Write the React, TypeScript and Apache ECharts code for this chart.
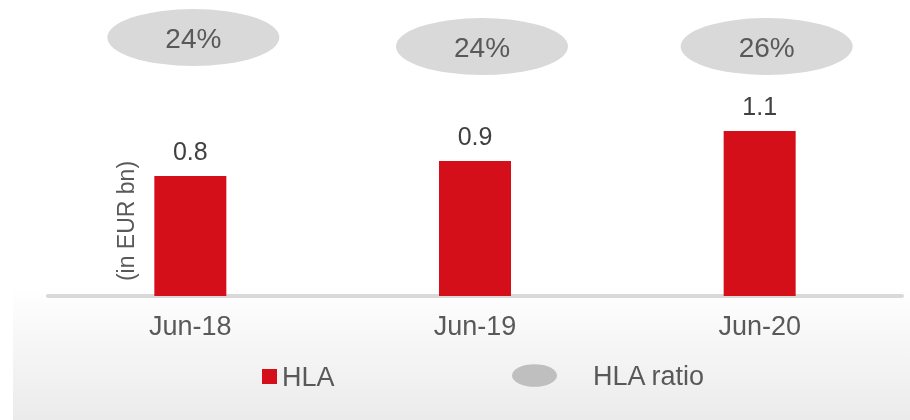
import React, { useEffect, useRef } from "react";
import * as echarts from "echarts";

const categories = ["Jun-18", "Jun-19", "Jun-20"];
const hlaValues = [0.8, 0.9, 1.1];
const hlaRatios = [24, 24, 26];
const ratioRow = ["HLA ratio"];

const FONT = "'Liberation Sans', Arial, sans-serif";
const ELLIPSE = "path://M0,50 A100,50 0 1,1 200,50 A100,50 0 1,1 0,50 Z";

export default function App() {
  const ref = useRef<HTMLDivElement>(null);
  useEffect(() => {
    if (!ref.current) return;
    const chart = echarts.init(ref.current, null, { renderer: "svg" });
    const ratioOffsets = [
      [3, -9],
      [7, 0],
      [7, 0],
    ];
    chart.setOption({
      animation: false,
      textStyle: { fontFamily: FONT },
      graphic: [
        {
          type: "rect",
          z: -100,
          silent: true,
          shape: { x: 13, y: 0, width: 897, height: 420 },
          style: {
            fill: new echarts.graphic.LinearGradient(0, 0, 0, 1, [
              { offset: 0, color: "#ffffff" },
              { offset: 0.68, color: "#ffffff" },
              { offset: 1, color: "#ebebeb" },
            ]),
          },
        },
        {
          type: "text",
          x: 126,
          y: 221,
          rotation: Math.PI / 2,
          style: {
            text: "(in EUR bn)",
            fontSize: 23,
            fontFamily: FONT,
            fill: "#595959",
            textAlign: "center",
            textVerticalAlign: "middle",
          },
        },
      ],
      grid: [
        { left: 48, right: 8, top: 71, bottom: 124 },
        { left: 48, right: 8, top: 18, height: 57 },
      ],
      xAxis: [
        {
          type: "category",
          gridIndex: 0,
          data: categories,
          axisLine: { lineStyle: { color: "#d9d9d9", width: 4 } },
          axisTick: { show: false },
          axisLabel: { fontSize: 27, color: "#595959", margin: 16, fontFamily: FONT },
        },
        {
          type: "category",
          gridIndex: 1,
          data: categories,
          show: false,
        },
      ],
      yAxis: [
        {
          type: "value",
          gridIndex: 0,
          min: 0,
          max: 1.5,
          show: false,
          splitLine: { show: false },
        },
        {
          type: "category",
          gridIndex: 1,
          data: ratioRow,
          show: false,
        },
      ],
      legend: [
        {
          data: [{ name: "HLA", icon: "rect" }],
          left: 257,
          top: 358,
          itemWidth: 15,
          itemHeight: 15,
          textStyle: { fontSize: 27, color: "#595959", fontFamily: FONT },
        },
        {
          data: [{ name: "HLA ratio", icon: ELLIPSE, itemStyle: { color: "#bfbfbf" } }],
          left: 507,
          top: 357,
          itemWidth: 45,
          itemHeight: 24,
          textStyle: {
            fontSize: 27,
            color: "#595959",
            fontFamily: FONT,
            padding: [0, 0, 0, 31],
          },
        },
      ],
      series: [
        {
          name: "HLA",
          type: "bar",
          xAxisIndex: 0,
          yAxisIndex: 0,
          data: hlaValues,
          barWidth: 72,
          itemStyle: { color: "#d50f19" },
          label: {
            show: true,
            position: "top",
            distance: 13,
            fontSize: 25,
            color: "#404040",
            fontFamily: FONT,
            formatter: (p: any) => Number(p.value).toFixed(1),
          },
        },
        {
          name: "HLA ratio",
          type: "scatter",
          xAxisIndex: 1,
          yAxisIndex: 1,
          clip: false,
          symbol: ELLIPSE,
          symbolSize: [172, 57],
          itemStyle: { color: "#d9d9d9", opacity: 1 },
          data: hlaRatios.map((r, i) => ({
            value: [categories[i], ratioRow[0]],
            symbolOffset: ratioOffsets[i],
          })),
          label: {
            show: true,
            position: "inside",
            offset: [0, 1],
            fontSize: 28,
            color: "#595959",
            fontFamily: FONT,
            formatter: (p: any) => hlaRatios[p.dataIndex] + "%",
          },
        },
      ],
    });
    return () => chart.dispose();
  }, []);
  return (
    <div
      ref={ref}
      style={{ position: "fixed", left: 0, top: 0, width: 910, height: 420 }}
    />
  );
}
